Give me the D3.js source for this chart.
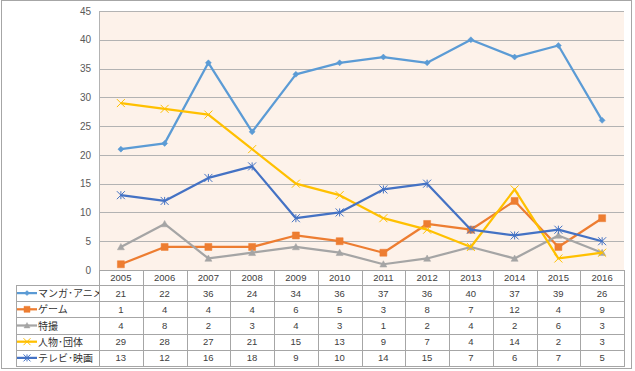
<!DOCTYPE html>
<html><head><meta charset="utf-8">
<script src="https://cdn.jsdelivr.net/npm/d3@7"></script>
<style>html,body{margin:0;padding:0;background:#fff;}svg{display:block;}</style>
</head><body>
<svg id="c" width="635" height="371"></svg>
<script>
const years = ["2005","2006","2007","2008","2009","2010","2011","2012","2013","2014","2015","2016"];
const seriesNames = ["マンガ･アニメ","ゲーム","特撮","人物･団体","テレビ･映画"];
const manga = [21,22,36,24,34,36,37,36,40,37,39,26];
const game = [1,4,4,4,6,5,3,8,7,12,4,9];
const tokusatsu = [4,8,2,3,4,3,1,2,4,2,6,3];
const jinbutsu = [29,28,27,21,15,13,9,7,4,14,2,3];
const tv = [13,12,16,18,9,10,14,15,7,6,7,5];
const yTicks = [0,5,10,15,20,25,30,35,40,45];

const seriesVals = [manga, game, tokusatsu, jinbutsu, tv];
const colors = ["#5B9BD5","#ED7D31","#A5A5A5","#FFC000","#4472C4"];
const markers = ["diamond","square","triangle","x","star"];

const svg = d3.select("#c");
const L = 99, R = 624, T = 11, B = 270;
const x = d3.scaleBand().domain(years).range([L, R]);
const y = d3.scaleLinear().domain([0,45]).range([B, T]);

svg.append("rect").attr("x",1.5).attr("y",0.5).attr("width",630).attr("height",368)
  .attr("fill","#fff").attr("stroke","#A6A6A6").attr("stroke-width",1);

svg.append("rect").attr("x",L).attr("y",T).attr("width",R-L).attr("height",B-T).attr("fill","#FDF2EA");

svg.append("g").selectAll("line").data(yTicks.filter(d=>d>0)).join("line")
  .attr("x1",L).attr("x2",R).attr("y1",d=>Math.round(y(d))+0.5).attr("y2",d=>Math.round(y(d))+0.5)
  .attr("stroke","#B3B3B3").attr("stroke-width",1);
svg.append("line").attr("x1",L+0.5).attr("x2",L+0.5).attr("y1",T).attr("y2",B).attr("stroke","#B3B3B3");

const yAxis = d3.axisLeft(y).tickValues(yTicks).tickSize(0).tickPadding(8);
const ya = svg.append("g").attr("transform",`translate(${L},0)`).call(yAxis);
ya.select(".domain").remove();
ya.selectAll("text").attr("font-family","Liberation Sans, Arial, sans-serif").attr("font-size","10px").attr("fill","#595959");

function markerPath(type, s){
  const h = s/2;
  switch(type){
    case "diamond": return `M0,${-h}L${h},0L0,${h}L${-h},0Z`;
    case "square": return `M${-h},${-h}H${h}V${h}H${-h}Z`;
    case "triangle": return `M0,${-h}L${h},${h*0.8}L${-h},${h*0.8}Z`;
    case "x": return `M${-h},${-h}L${h},${h}M${h},${-h}L${-h},${h}`;
    case "star": return `M${-h},${-h}L${h},${h}M${h},${-h}L${-h},${h}M0,${-h}V${h}`;
  }
}
const msize = [6,7,7,8,8];

const line = d3.line().x((d,i)=>x(years[i])+x.bandwidth()/2).y(d=>y(d));
seriesVals.forEach((vals, si)=>{
  svg.append("path").attr("d", line(vals)).attr("fill","none")
    .attr("stroke", colors[si]).attr("stroke-width",2.25).attr("stroke-linejoin","round");
  const open = markers[si]==="x"||markers[si]==="star";
  svg.append("g").selectAll("path").data(vals).join("path")
    .attr("transform",(d,i)=>`translate(${x(years[i])+x.bandwidth()/2},${y(d)})`)
    .attr("d", markerPath(markers[si], msize[si]))
    .attr("fill", open ? "none" : colors[si])
    .attr("stroke", colors[si]).attr("stroke-width", open?1:0.5);
});

const tbl = svg.append("g");
const rowH = 16.2;
const tTop = 270, hdrBot = 285;
const rowY = i => hdrBot + i*rowH;
const tBot = rowY(seriesNames.length);
const gridC = "#A6A6A6";
years.forEach((yr,i)=>{
  tbl.append("line").attr("x1",Math.round(x(yr))+0.5).attr("x2",Math.round(x(yr))+0.5)
    .attr("y1",tTop).attr("y2",tBot).attr("stroke",gridC);
});
tbl.append("line").attr("x1",R+0.5).attr("x2",R+0.5).attr("y1",tTop).attr("y2",tBot).attr("stroke",gridC);
tbl.append("line").attr("x1",16.5).attr("x2",16.5).attr("y1",hdrBot).attr("y2",tBot).attr("stroke",gridC);
tbl.append("line").attr("x1",L).attr("x2",R+1).attr("y1",tTop+0.5).attr("y2",tTop+0.5).attr("stroke",gridC);
for(let i=0;i<=seriesNames.length;i++){
  const yy = Math.round(rowY(i))+0.5;
  tbl.append("line").attr("x1",16).attr("x2",R+1).attr("y1",yy).attr("y2",yy).attr("stroke",gridC);
}
tbl.selectAll("text.hdr").data(years).join("text").attr("class","hdr")
  .attr("x",d=>x(d)+x.bandwidth()/2).attr("y",(tTop+hdrBot)/2+3.5)
  .attr("text-anchor","middle").attr("font-family","Liberation Sans, Arial, sans-serif")
  .attr("font-size","9.5px").attr("fill","#404040").text(d=>d);
svg.append("clipPath").attr("id","lc").append("rect").attr("x",16).attr("y",hdrBot).attr("width",L-16).attr("height",tBot-hdrBot);
seriesNames.forEach((nm,si)=>{
  const cy = rowY(si)+rowH/2;
  const g = tbl.append("g").attr("clip-path","url(#lc)");
  g.append("line").attr("x1",17).attr("x2",37).attr("y1",cy).attr("y2",cy).attr("stroke",colors[si]).attr("stroke-width",2.25);
  const open = markers[si]==="x"||markers[si]==="star";
  g.append("path").attr("transform",`translate(27,${cy})`).attr("d",markerPath(markers[si],msize[si]-1))
    .attr("fill", open?"none":colors[si]).attr("stroke",colors[si]).attr("stroke-width",open?1:0.5);
  g.append("text").attr("x",38).attr("y",cy+4).attr("font-family","Noto Sans CJK JP, sans-serif")
    .attr("font-size","10px").attr("fill","#333333").text(nm);
  tbl.selectAll(null).data(seriesVals[si]).join("text")
    .attr("x",(d,i)=>x(years[i])+x.bandwidth()/2).attr("y",cy+3.5)
    .attr("text-anchor","middle").attr("font-family","Liberation Sans, Arial, sans-serif")
    .attr("font-size","9.5px").attr("fill","#404040").text(d=>d);
});
</script>
</body></html>
